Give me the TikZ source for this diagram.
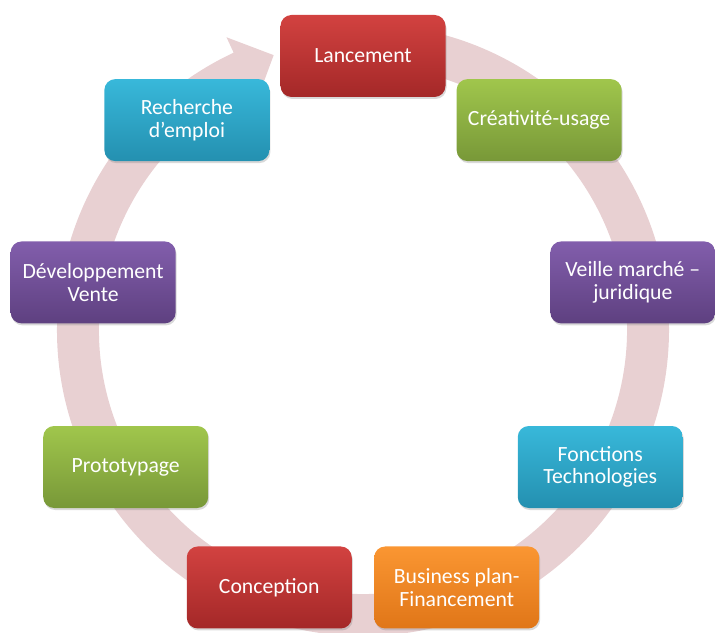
\documentclass[tikz,border=0pt]{standalone}
\usepackage{fontspec}
\setmainfont{Carlito}
\usetikzlibrary{shadows}
\definecolor{ringpink}{RGB}{232,208,210}
\definecolor{redtop}{RGB}{210,66,64}
\definecolor{redbot}{RGB}{164,40,40}
\definecolor{greentop}{RGB}{160,198,76}
\definecolor{greenbot}{RGB}{120,152,56}
\definecolor{purpletop}{RGB}{130,94,172}
\definecolor{purplebot}{RGB}{94,64,128}
\definecolor{cyantop}{RGB}{56,184,218}
\definecolor{cyanbot}{RGB}{36,144,176}
\definecolor{orangetop}{RGB}{250,150,50}
\definecolor{orangebot}{RGB}{224,118,24}

\begin{document}
\begin{tikzpicture}
        [
            x=1pt, y=1pt,
            box/.style={rectangle, rounded corners=11pt, minimum width=165pt, minimum height=82pt,
                align=center, text=white, font=\fontsize{21.7}{22.5}\selectfont,
                drop shadow={opacity=0.3, shadow xshift=1pt, shadow yshift=-2pt}},
            redbox/.style={box, top color=redtop, bottom color=redbot},
            greenbox/.style={box, top color=greentop, bottom color=greenbot},
            purplebox/.style={box, top color=purpletop, bottom color=purplebot},
            cyanbox/.style={box, top color=cyantop, bottom color=cyanbot},
            orangebox/.style={box, top color=orangetop, bottom color=orangebot},
        ]
    \useasboundingbox (-363,-302) rectangle (352,330);

    % ring with its head just before Lancement
    \fill[ringpink] (85:306) arc[start angle=85, end angle=-245, radius=306]
        -- (-245:323) -- (-252:289) -- (-245:252) -- (-245:264)
        arc[start angle=-245, end angle=85, radius=264] -- cycle;

    \node[redbox] (lancement) at (90:274) {Lancement};
    \node[greenbox] (creativite) at (50:274) {Créativité-usage};
    \node[purplebox] (veille) at (10:274) {Veille marché –\\juridique};
    \node[cyanbox] (fonctions) at (-30:274) {Fonctions\\Technologies};
    \node[orangebox] (business) at (-70:274) {Business plan-\\Financement};
    \node[redbox] (conception) at (-110:274) {Conception};
    \node[greenbox] (prototypage) at (-150:274) {Prototypage};
    \node[purplebox] (developpement) at (170:274) {Développement\\Vente};
    \node[cyanbox] (recherche) at (130:274) {Recherche\\d’emploi};
    \end{tikzpicture}
\end{document}
